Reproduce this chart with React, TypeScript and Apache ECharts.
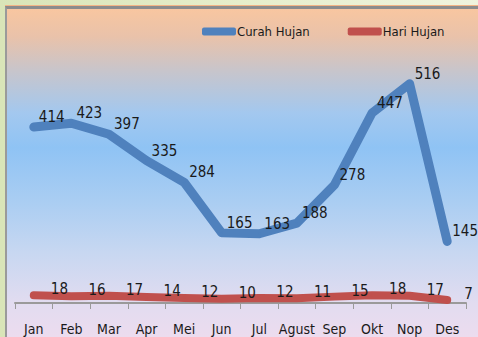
import React, { useEffect, useRef } from "react";
import * as echarts from "echarts";

const months = ["Jan", "Feb", "Mar", "Apr", "Mei", "Jun", "Jul", "Agust", "Sep", "Okt", "Nop", "Des"];
const curahHujan = [414, 423, 397, 335, 284, 165, 163, 188, 278, 447, 516, 145];
const hariHujan = [18, 16, 17, 14, 12, 10, 12, 11, 15, 18, 17, 7];

const FONT = "'DejaVu Sans Condensed', 'Liberation Sans Narrow', 'Roboto', sans-serif";

export default function App() {
  const ref = useRef<HTMLDivElement>(null);
  useEffect(() => {
    if (!ref.current) return;
    const chart = echarts.init(ref.current, undefined, { renderer: "svg" });
    chart.setOption({
      animation: false,
      backgroundColor: "transparent",
      legend: {
        left: 197,
        top: 20,
        itemWidth: 34,
        itemHeight: 8,
        itemGap: 38,
        icon: "roundRect",
        textStyle: { fontFamily: FONT, fontSize: 13, color: "#1a1a1a", padding: [0, 0, 0, -4] },
        data: ["Curah Hujan", "Hari Hujan"],
      },
      grid: { left: 15, right: 12, top: 48, bottom: 34, containLabel: false, outerBoundsMode: "none" },
      xAxis: {
        type: "category",
        data: months,
        boundaryGap: true,
        axisLine: { lineStyle: { color: "#9a9a9a", width: 2 } },
        axisTick: { show: true, length: 6, lineStyle: { color: "#9a9a9a", width: 1 } },
        axisLabel: { interval: 0, fontFamily: FONT, fontSize: 14, lineHeight: 15, color: "#1a1a1a", margin: 18 },
      },
      yAxis: {
        type: "value",
        min: 0,
        max: 600,
        show: false,
        splitLine: { show: false },
      },
      series: [
        {
          name: "Curah Hujan",
          type: "line",
          data: curahHujan,
          symbol: "circle",
          symbolSize: 2,
          showSymbol: true,
          itemStyle: { color: "#4f81bd" },
          color: "#4f81bd",
          lineStyle: { width: 9, color: "#4f81bd", cap: "round", join: "round" },
          label: {
            show: true,
            position: "right",
            distance: 4,
            offset: [0, -10],
            fontFamily: FONT,
            fontSize: 15,
            color: "#1a1a1a",
          },
          z: 3,
        },
        {
          name: "Hari Hujan",
          type: "line",
          data: hariHujan,
          symbol: "circle",
          symbolSize: 2,
          showSymbol: true,
          itemStyle: { color: "#c0504d" },
          color: "#c0504d",
          lineStyle: { width: 8, color: "#c0504d", cap: "round", join: "round" },
          label: {
            show: true,
            position: "right",
            distance: 4,
            offset: [12, -6],
            fontFamily: FONT,
            fontSize: 15,
            color: "#1a1a1a",
          },
          z: 2,
        },
      ],
    });
    return () => chart.dispose();
  }, []);

  return (
    <div
      style={{
        position: "fixed",
        left: 0,
        top: 0,
        width: 478,
        height: 337,
        overflow: "hidden",
        background: "linear-gradient(to right, #d9e5b8 0%, #e6eecb 50%, #eff4de 100%)",
      }}
    >
      <div
        style={{
          position: "absolute",
          left: 5,
          top: 6,
          width: 490,
          height: 350,
          boxSizing: "border-box",
          borderTop: "3px solid #8c8c8c",
          borderLeft: "2px solid #9a9a9a",
          boxShadow: "0 -1px 0 #f2b485",
          background:
            "linear-gradient(to bottom, #f8c6a0 0%, #e9c2aa 8%, #c7c5cc 18%, #a3c8ef 30%, #8fc3f4 40%, #a9cdf2 55%, #c7d7f1 70%, #e2dcf0 85%, #f2dcee 100%)",
        }}
      />
      <div ref={ref} style={{ position: "absolute", left: 0, top: 0, width: 478, height: 337 }} />
    </div>
  );
}
